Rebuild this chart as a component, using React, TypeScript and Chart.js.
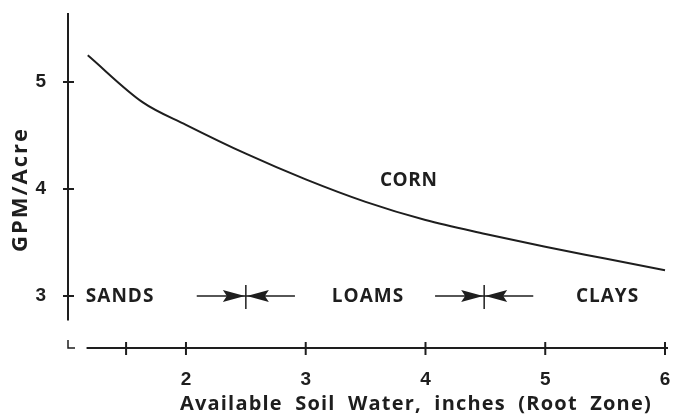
import React, { useEffect, useRef } from 'react';
import { Chart, registerables } from 'chart.js';

Chart.register(...registerables);

// Data
const soilWater = [1.18, 1.64, 2.0, 2.5, 3.0, 3.5, 4.0, 4.5, 5.0, 5.5, 6.0];
const gpmPerAcre = [5.25, 4.81, 4.6, 4.33, 4.09, 3.88, 3.71, 3.58, 3.46, 3.35, 3.24];
const xTickValues = [1.5, 2, 3, 4, 5, 6];
const xTickLabels = ['', '2', '3', '4', '5', '6'];
const yTickValues = [3, 4, 5];
const yTickLabels = ['3', '4', '5'];
const soilLabels = ['SANDS', 'LOAMS', 'CLAYS'];
const soilLabelX = [1.45, 3.52, 5.52];
const soilBandY = 3.0;
const boundaryX = [2.5, 4.49];
const curveLabel = 'CORN';
const curveLabelX = 3.86;
const curveLabelY = 4.08;
const xTitle = 'Available Soil Water, inches (Root Zone)';
const yTitle = 'GPM/Acre';

const INK = '#1e1e1e';
const TEXT_FONT = '"Open Sans", "DejaVu Sans", sans-serif';
const NUM_FONT = '"Liberation Sans", Arial, sans-serif';

export default function App() {
  const ref = useRef<HTMLCanvasElement>(null);

  useEffect(() => {
    const canvas = ref.current;
    if (!canvas) return;

    const overlay = {
      id: 'overlay',
      afterDraw(chart: any) {
        const { ctx, chartArea, scales } = chart;
        const x = scales.x;
        const y = scales.y;
        ctx.save();
        ctx.strokeStyle = INK;
        ctx.fillStyle = INK;
        ctx.lineWidth = 2;
        ctx.lineCap = 'butt';

        // y axis line (stops above the x axis)
        const left = chartArea.left;
        ctx.beginPath();
        ctx.moveTo(left, y.getPixelForValue(5.645));
        ctx.lineTo(left, y.getPixelForValue(2.77));
        ctx.stroke();
        yTickValues.forEach((v) => {
          const py = y.getPixelForValue(v);
          ctx.beginPath();
          ctx.moveTo(left - 5, py);
          ctx.lineTo(left + 6, py);
          ctx.stroke();
        });

        // x axis line
        const bottom = chartArea.bottom;
        ctx.beginPath();
        ctx.moveTo(x.getPixelForValue(1.17), bottom);
        ctx.lineTo(x.getPixelForValue(6.025), bottom);
        ctx.stroke();
        xTickValues.forEach((v) => {
          const px = x.getPixelForValue(v);
          ctx.beginPath();
          ctx.moveTo(px, bottom - 6);
          ctx.lineTo(px, bottom + 7);
          ctx.stroke();
        });

        // corner mark
        ctx.lineWidth = 1.5;
        ctx.beginPath();
        ctx.moveTo(left, bottom - 8);
        ctx.lineTo(left, bottom);
        ctx.lineTo(left + 7, bottom);
        ctx.stroke();

        // soil class labels
        ctx.font = `bold 19px ${TEXT_FONT}`;
        (ctx as any).letterSpacing = '1px';
        ctx.textAlign = 'center';
        ctx.textBaseline = 'middle';
        const bandPy = y.getPixelForValue(soilBandY);
        soilLabels.forEach((s, i) => {
          ctx.fillText(s, x.getPixelForValue(soilLabelX[i]), bandPy + 1);
        });
        (ctx as any).letterSpacing = '0.6px';
        ctx.fillText(curveLabel, x.getPixelForValue(curveLabelX), y.getPixelForValue(curveLabelY));

        // boundary arrows
        ctx.lineWidth = 1.5;
        boundaryX.forEach((b) => {
          const px = x.getPixelForValue(b);
          const l = x.getPixelForValue(b - 0.41);
          const r = x.getPixelForValue(b + 0.41);
          ctx.beginPath();
          ctx.moveTo(l, bandPy);
          ctx.lineTo(r, bandPy);
          ctx.stroke();
          ctx.beginPath();
          ctx.moveTo(px, bandPy - 11);
          ctx.lineTo(px, bandPy + 13);
          ctx.stroke();
          // right-pointing head
          ctx.beginPath();
          ctx.moveTo(px - 1, bandPy);
          ctx.lineTo(px - 23, bandPy - 6);
          ctx.lineTo(px - 19, bandPy);
          ctx.lineTo(px - 23, bandPy + 6);
          ctx.closePath();
          ctx.fill();
          // left-pointing head
          ctx.beginPath();
          ctx.moveTo(px + 1, bandPy);
          ctx.lineTo(px + 23, bandPy - 6);
          ctx.lineTo(px + 19, bandPy);
          ctx.lineTo(px + 23, bandPy + 6);
          ctx.closePath();
          ctx.fill();
        });

        // axis titles
        ctx.font = `bold 20px ${TEXT_FONT}`;
        (ctx as any).letterSpacing = '1.2px';
        (ctx as any).wordSpacing = '6px';
        ctx.textAlign = 'center';
        ctx.textBaseline = 'middle';
        ctx.fillText(xTitle, x.getPixelForValue(3.92), chart.height - 11);
        (ctx as any).wordSpacing = '0px';
        ctx.font = `bold 22px ${TEXT_FONT}`;
        (ctx as any).letterSpacing = '2px';
        ctx.save();
        ctx.translate(21, (chartArea.top + chartArea.bottom) / 2 + 10);
        ctx.rotate(-Math.PI / 2);
        ctx.fillText(yTitle, 1, 0);
        ctx.restore();

        ctx.restore();
      },
    };

    const zeroPad = (s: any) => {
      s.paddingTop = 0;
      s.paddingBottom = 0;
      s.paddingLeft = 0;
      s.paddingRight = 0;
    };

    const chart = new Chart(canvas, {
      type: 'line',
      data: {
        datasets: [
          {
            data: soilWater.map((v, i) => ({ x: v, y: gpmPerAcre[i] })),
            borderColor: INK,
            borderWidth: 2,
            pointRadius: 0,
            tension: 0.4,
            cubicInterpolationMode: 'monotone',
            fill: false,
          },
        ],
      },
      options: {
        responsive: false,
        animation: false,
        devicePixelRatio: 1,
        layout: { padding: { top: 13, right: 8, left: 0, bottom: 0 } },
        plugins: { legend: { display: false }, tooltip: { enabled: false } },
        scales: {
          x: {
            type: 'linear',
            min: 1.015,
            max: 6.025,
            grid: { display: false },
            border: { display: false },
            afterBuildTicks: (s: any) => {
              s.ticks = xTickValues.map((v) => ({ value: v }));
            },
            afterFit: (s: any) => {
              s.height = 67;
              zeroPad(s);
            },
            ticks: {
              autoSkip: false,
              maxRotation: 0,
              padding: 12,
              color: INK,
              font: { family: NUM_FONT, weight: 'bold', size: 19 },
              callback: (_v: any, i: number) => xTickLabels[i],
            },
          },
          y: {
            type: 'linear',
            min: 2.514,
            max: 5.645,
            grid: { display: false },
            border: { display: false },
            afterBuildTicks: (s: any) => {
              s.ticks = yTickValues.map((v) => ({ value: v }));
            },
            afterFit: (s: any) => {
              s.width = 68;
              zeroPad(s);
            },
            ticks: {
              padding: 14,
              color: INK,
              font: { family: NUM_FONT, weight: 'bold', size: 19 },
              callback: (_v: any, i: number) => yTickLabels[i],
            },
          },
        },
      },
      plugins: [overlay],
    } as any);

    return () => chart.destroy();
  }, []);

  return (
    <div style={{ position: 'absolute', left: 0, top: 0, width: 676, height: 415, background: '#fff' }}>
      <canvas ref={ref} width={676} height={415} style={{ display: 'block' }} />
    </div>
  );
}
